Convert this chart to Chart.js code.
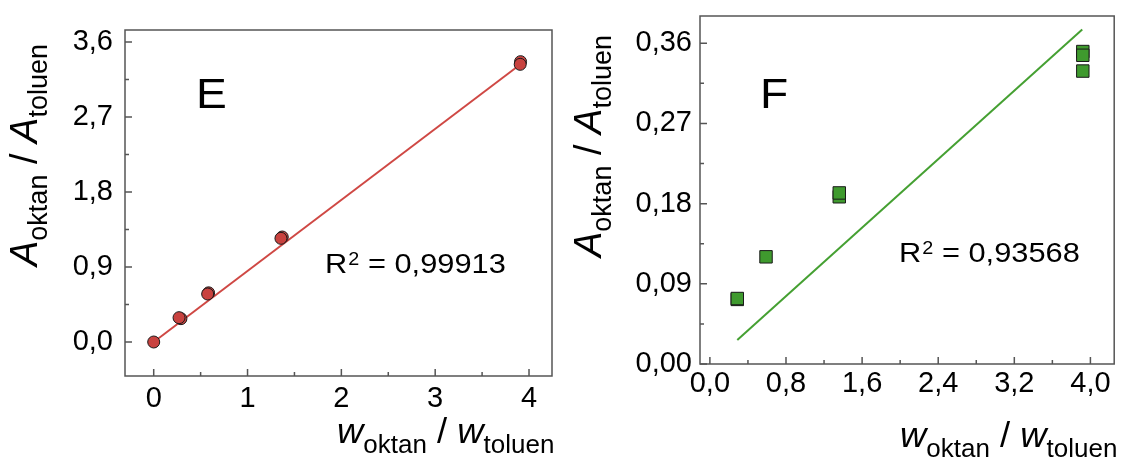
<!DOCTYPE html>
<html>
<head>
<meta charset="utf-8">
<script src="https://cdn.jsdelivr.net/npm/chart.js@4"></script>
<style>
  body { margin: 0; background: #fff; }
  #wrap { position: relative; width: 1124px; height: 462px; }
  canvas { position: absolute; top: 0; }
</style>
</head>
<body>
<div id="wrap">
  <canvas id="chartE" width="560" height="462" style="left:0"></canvas>
  <canvas id="chartF" width="564" height="462" style="left:560px"></canvas>
</div>
<script>
const FONT = "'Liberation Sans', Arial, sans-serif";

// panel E
const eX = [0.29, 0, 0.27, 0.585, 0.575, 1.37, 1.356, 3.91, 3.906];
const eY = [0.28, 0, 0.292, 0.59, 0.576, 1.26, 1.244, 3.364, 3.332];
const eFitX = [0, 3.906];
const eFitY = [0, 3.33];
const eXTicks = [0, 1, 2, 3, 4];
const eXMinor = [0.5, 1.5, 2.5, 3.5];
const eYTicks = [0, 0.9, 1.8, 2.7, 3.6];
const eYMinor = [0.45, 1.35, 2.25, 3.15];

// panel F
const fX = [0.288, 0.288, 0.59, 1.36, 1.36, 3.92, 3.92, 3.92];
const fY = [0.0725, 0.0735, 0.1203, 0.1877, 0.192, 0.3507, 0.3465, 0.3288];
const fFitX = [0.288, 3.914];
const fFitY = [0.0269, 0.3754];
const fXTicks = [0, 0.8, 1.6, 2.4, 3.2, 4.0];
const fXMinor = [0.4, 1.2, 2.0, 2.8, 3.6];
const fYTicks = [0, 0.09, 0.18, 0.27, 0.36];
const fYMinor = [0.045, 0.135, 0.225, 0.315];

function pts(xs, ys) {
  return xs.map((x, i) => ({ x: x, y: ys[i] }));
}

// draws a run of text pieces (italic / subscript) starting at 0,0
function drawRich(ctx, segs) {
  let cx = 0;
  segs.forEach(s => {
    ctx.font = (s.italic ? 'italic ' : '') + s.size + 'px ' + FONT;
    ctx.fillText(s.t, cx, s.dy || 0);
    cx += ctx.measureText(s.t).width;
  });
  return cx;
}

function richWidth(ctx, segs) {
  let w = 0;
  segs.forEach(s => {
    ctx.font = (s.italic ? 'italic ' : '') + s.size + 'px ' + FONT;
    w += ctx.measureText(s.t).width;
  });
  return w;
}

const yTitle = [
  { t: 'A', size: 38, italic: true },
  { t: 'oktan', size: 27, dy: 10 },
  { t: ' / ', size: 38 },
  { t: 'A', size: 38, italic: true },
  { t: 'toluen', size: 27, dy: 10 }
];
const xTitle = [
  { t: 'w', size: 35, italic: true },
  { t: 'oktan', size: 25, dy: 10 },
  { t: ' / ', size: 35 },
  { t: 'w', size: 35, italic: true },
  { t: 'toluen', size: 25, dy: 10 }
];

function makeChart(id, p) {
  const deco = {
    id: 'deco',
    afterDraw(chart) {
      const ctx = chart.ctx;
      const a = chart.chartArea;
      const xs = chart.scales.x, ys = chart.scales.y;
      ctx.save();
      // frame
      ctx.strokeStyle = '#555';
      ctx.lineWidth = 1.5;
      ctx.strokeRect(a.left, a.top, a.right - a.left, a.bottom - a.top);
      // inward ticks
      ctx.beginPath();
      p.xTicks.forEach(v => { const px = xs.getPixelForValue(v); ctx.moveTo(px, a.bottom); ctx.lineTo(px, a.bottom - 7); });
      p.xMinor.forEach(v => { const px = xs.getPixelForValue(v); ctx.moveTo(px, a.bottom); ctx.lineTo(px, a.bottom - 4); });
      p.yTicks.forEach(v => { const py = ys.getPixelForValue(v); ctx.moveTo(a.left, py); ctx.lineTo(a.left + 7, py); });
      p.yMinor.forEach(v => { const py = ys.getPixelForValue(v); ctx.moveTo(a.left, py); ctx.lineTo(a.left + 4, py); });
      ctx.stroke();

      ctx.fillStyle = '#000';
      ctx.textBaseline = 'alphabetic';
      const sx = 1.1;
      // panel letter
      ctx.save();
      ctx.translate(p.letterX, p.letterY);
      ctx.scale(sx, 1);
      ctx.font = '42px ' + FONT;
      ctx.fillText(p.letter, 0, 0);
      ctx.restore();
      // R^2 label
      ctx.save();
      ctx.translate(p.rX, p.rY);
      ctx.scale(sx, 1);
      ctx.font = '28px ' + FONT;
      ctx.fillText('R', 0, 0);
      let w = ctx.measureText('R').width;
      ctx.font = '18px ' + FONT;
      ctx.fillText('2', w + 1, -8);
      w += ctx.measureText('2').width + 1;
      ctx.font = '28px ' + FONT;
      ctx.fillText(' = ' + p.r2, w, 0);
      ctx.restore();
      // x title
      ctx.save();
      ctx.translate(p.xtX, p.xtY);
      ctx.scale(1.04, 1);
      drawRich(ctx, xTitle);
      ctx.restore();
      // y title
      const tw = richWidth(ctx, yTitle);
      ctx.translate(p.ytX, p.ytC);
      ctx.rotate(-Math.PI / 2);
      ctx.translate(-tw / 2, 0);
      drawRich(ctx, yTitle);
      ctx.restore();
    }
  };

  return new Chart(document.getElementById(id), {
    type: 'scatter',
    data: {
      datasets: [
        {
          data: pts(p.x, p.y),
          pointStyle: p.style,
          pointRadius: p.radius,
          backgroundColor: p.color,
          borderColor: '#1a1a1a',
          borderWidth: 1,
          order: 1
        },
        {
          type: 'line',
          data: pts(p.fitX, p.fitY),
          borderColor: p.lineColor,
          borderWidth: 2,
          pointRadius: 0,
          fill: false,
          order: 2
        }
      ]
    },
    options: {
      responsive: false,
      animation: false,
      layout: { padding: p.pad },
      plugins: { legend: { display: false }, tooltip: { enabled: false } },
      scales: {
        x: {
          type: 'linear',
          min: p.xMin, max: p.xMax,
          grid: { display: false, drawTicks: false },
          border: { display: false },
          ticks: {
            font: { family: FONT, size: 29 },
            color: '#000',
            padding: p.xPad,
            autoSkip: false,
            maxRotation: 0,
            callback: v => v.toFixed(p.xDec).replace('.', ',')
          },
          afterBuildTicks: s => { s.ticks = p.xTicks.map(v => ({ value: v })); },
          afterFit: s => { s.height = p.xH; s.paddingLeft = 0; s.paddingRight = 0; }
        },
        y: {
          type: 'linear',
          min: p.yMin, max: p.yMax,
          grid: { display: false, drawTicks: false },
          border: { display: false },
          ticks: {
            font: { family: FONT, size: 29 },
            color: '#000',
            padding: p.yPad,
            autoSkip: false,
            callback: v => v.toFixed(p.yDec).replace('.', ',')
          },
          afterBuildTicks: s => { s.ticks = p.yTicks.map(v => ({ value: v })); },
          afterFit: s => { s.width = p.yW; s.paddingTop = 0; s.paddingBottom = 0; }
        }
      }
    },
    plugins: [deco]
  });
}

makeChart('chartE', {
  x: eX, y: eY, fitX: eFitX, fitY: eFitY,
  xTicks: eXTicks, xMinor: eXMinor, yTicks: eYTicks, yMinor: eYMinor,
  xMin: -0.306, xMax: 4.245, yMin: -0.408, yMax: 3.744,
  xDec: 0, yDec: 1,
  style: 'circle', radius: 6, color: '#c8423f', lineColor: '#cf4844',
  pad: { left: 0, top: 30, right: 8, bottom: 0 }, yW: 125, xH: 86,
  xPad: 6, yPad: 12,
  letter: 'E', letterX: 196, letterY: 108,
  r2: '0,99913', rX: 325, rY: 273,
  xtX: 337, xtY: 443, ytX: 37, ytC: 155
});

makeChart('chartF', {
  x: fX, y: fY, fitX: fFitX, fitY: fFitY,
  xTicks: fXTicks, xMinor: fXMinor, yTicks: fYTicks, yMinor: fYMinor,
  xMin: -0.104, xMax: 4.25, yMin: 0, yMax: 0.3906,
  xDec: 1, yDec: 2,
  style: 'rect', radius: 8.8, color: '#3f9a2e', lineColor: '#45a032',
  pad: { left: 0, top: 16, right: 5, bottom: 0 }, yW: 140, xH: 98,
  xPad: 3, yPad: 8,
  letter: 'F', letterX: 200, letterY: 108,
  r2: '0,93568', rX: 339, rY: 262,
  xtX: 340, xtY: 447, ytX: 41, ytC: 146
});
</script>
</body>
</html>
